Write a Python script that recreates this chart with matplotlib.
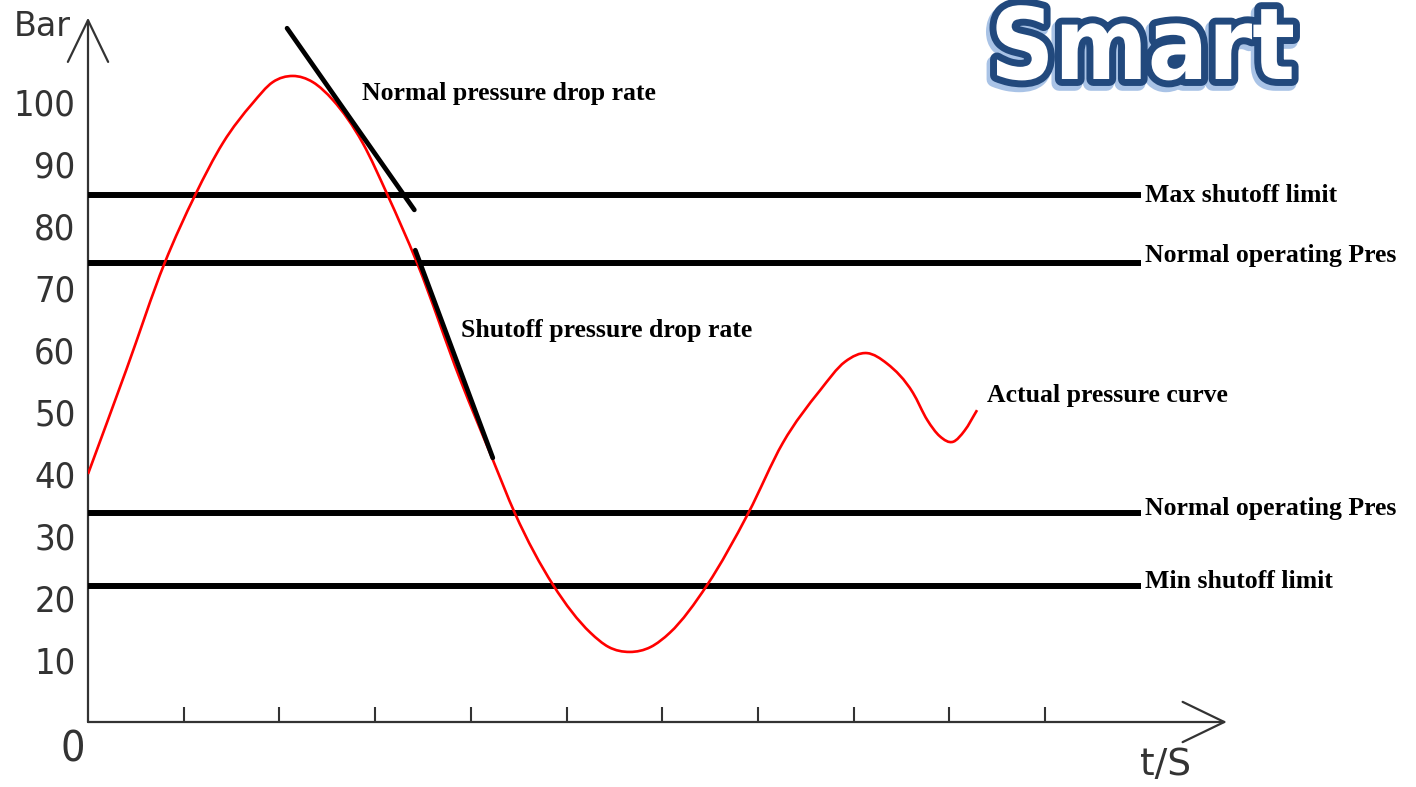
import matplotlib
matplotlib.use("Agg")
import numpy as np
import matplotlib.pyplot as plt
import matplotlib.patheffects as pe
from matplotlib.path import Path
from matplotlib.patches import PathPatch

SERIF = "Liberation Serif"
SANS = "DejaVu Sans"

# DATA
curve_t = [0.0, 0.40, 0.80, 1.12, 1.41, 1.72, 1.93, 2.14, 2.35, 2.56,
           2.87, 3.13, 3.44, 3.89, 4.23, 4.46, 4.86, 5.25, 5.44,
           5.66, 5.88, 6.08, 6.47, 6.90, 7.26, 7.65, 7.91, 8.14,
           8.35, 8.62, 8.77, 8.90, 9.04, 9.16, 9.29]
curve_p = [40.0, 56.8, 74.0, 85.0, 93.4, 99.8, 103.2, 104.2, 103.2, 100.3,
           93.4, 85.0, 74.0, 55.2, 42.3, 33.7, 22.1, 14.4, 12.1,
           11.3, 12.1, 14.4, 22.1, 33.7, 45.0, 53.5, 58.1, 59.5,
           57.8, 53.1, 48.7, 46.1, 45.2, 47.0, 50.3]

limit_values = [85, 74, 33.7, 22]
limit_labels = ["Max shutoff limit", "Normal operating Pres",
                "Normal operating Pres", "Min shutoff limit"]
limit_label_y = [85.0, 75.3, 34.4, 22.7]
limit_end = 11.0

normal_rate_t = [2.08, 3.41]
normal_rate_p = [111.9, 82.6]
shutoff_rate_t = [3.42, 4.23]
shutoff_rate_p = [76.1, 42.6]

y_ticks = [10, 20, 30, 40, 50, 60, 70, 80, 90, 100]
x_ticks = [1, 2, 3, 4, 5, 6, 7, 8, 9, 10]


# smooth path through the read points (hermite -> bezier, drawn by matplotlib)
def smooth_path(xs, ys):
    x = np.asarray(xs, float)
    y = np.asarray(ys, float)
    h = np.diff(x)
    d = np.diff(y) / h
    m = np.empty_like(y)
    m[0], m[-1] = d[0], d[-1]
    m[1:-1] = (h[:-1] * d[1:] + h[1:] * d[:-1]) / (h[:-1] + h[1:])
    verts = [(x[0], y[0])]
    codes = [Path.MOVETO]
    for i in range(len(x) - 1):
        verts += [(x[i] + h[i] / 3, y[i] + m[i] * h[i] / 3),
                  (x[i + 1] - h[i] / 3, y[i + 1] - m[i + 1] * h[i] / 3),
                  (x[i + 1], y[i + 1])]
        codes += [Path.CURVE4] * 3
    return Path(verts, codes)


# FIGURE
fig = plt.figure(figsize=(14.16, 7.87), dpi=100)
ax = fig.add_axes([88 / 1416, 65 / 787, 12 * 95.7 / 1416, 115 * 6.2 / 787])
ax.set_xlim(0, 12)
ax.set_ylim(0, 115)

for s in ax.spines.values():
    s.set_visible(False)

# AXES WITH ARROWS
axis_col = "#333333"
arrow = dict(arrowstyle="->,head_length=3.0,head_width=1.45",
             lw=1.6, color=axis_col, mutation_scale=10, shrinkA=0, shrinkB=0)
ax.annotate("", xy=(0, 113.6), xytext=(0, 0), arrowprops=arrow,
            annotation_clip=False)
ax.annotate("", xy=(11.9, 0), xytext=(0, 0), arrowprops=arrow,
            annotation_clip=False)

ax.set_xticks(x_ticks)
ax.set_xticklabels([])
ax.tick_params(axis="x", direction="in", length=11, width=1.5,
               color=axis_col)
ax.set_yticks(y_ticks)
ax.set_yticklabels([str(v) for v in y_ticks], family=SANS,
                   fontstretch="condensed", fontsize=26, color=axis_col)
ax.tick_params(axis="y", length=0, pad=9)

ax.text(-0.16, -4.5, "0", family=SANS, fontstretch="condensed",
        fontsize=31, color=axis_col, ha="center", va="center", clip_on=False)
ax.text(-0.48, 112.2, "Bar", family=SANS, fontsize=24,
        color=axis_col, ha="center", va="center", clip_on=False)
ax.text(11.26, -6.9, "t/S", family=SANS, fontsize=27,
        color=axis_col, ha="center", va="center", clip_on=False)

# LIMIT LINES
ax.hlines(limit_values, 0, limit_end, color="black", lw=4.3, zorder=3)
for lab, ly in zip(limit_labels, limit_label_y):
    ax.text(limit_end + 0.05, ly, lab, family=SERIF, weight="bold",
            fontsize=18.5, ha="left", va="center", clip_on=False)

# ACTUAL PRESSURE CURVE
ax.add_patch(PathPatch(smooth_path(curve_t, curve_p), facecolor="none",
                       edgecolor="#ff0000", lw=1.9, zorder=4))
ax.text(9.39, 52.6, "Actual pressure curve", family=SERIF, weight="bold",
        fontsize=18.5, ha="left", va="center")

# DROP RATE TANGENTS
ax.plot(normal_rate_t, normal_rate_p, color="black", lw=3.4, zorder=5,
        clip_on=False, solid_capstyle="round")
ax.text(2.86, 101.3, "Normal pressure drop rate", family=SERIF,
        weight="bold", fontsize=18.5, ha="left", va="center")
ax.plot(shutoff_rate_t, shutoff_rate_p, color="black", lw=3.4, zorder=5,
        solid_capstyle="round")
ax.text(3.90, 63.2, "Shutoff pressure drop rate", family=SERIF,
        weight="bold", fontsize=18.5, ha="left", va="center")

# "Smart" BANNER (size fitted to the width seen in the picture)
smart = fig.text(990 / 1416, 1 - 79 / 787, "Smart", family=SANS,
                 fontstretch="condensed", weight="bold", fontsize=60,
                 color="white", ha="left", va="baseline")
fig.canvas.draw()
w = smart.get_window_extent().width
smart.set_fontsize(60 * 305 / w)
smart.set_path_effects([
    pe.Stroke(linewidth=11, foreground="#a9c3e6", offset=(-2, -3)),
    pe.Stroke(linewidth=10, foreground="#22497d"),
    pe.Normal(),
])

fig.savefig("out.png", dpi=100)
